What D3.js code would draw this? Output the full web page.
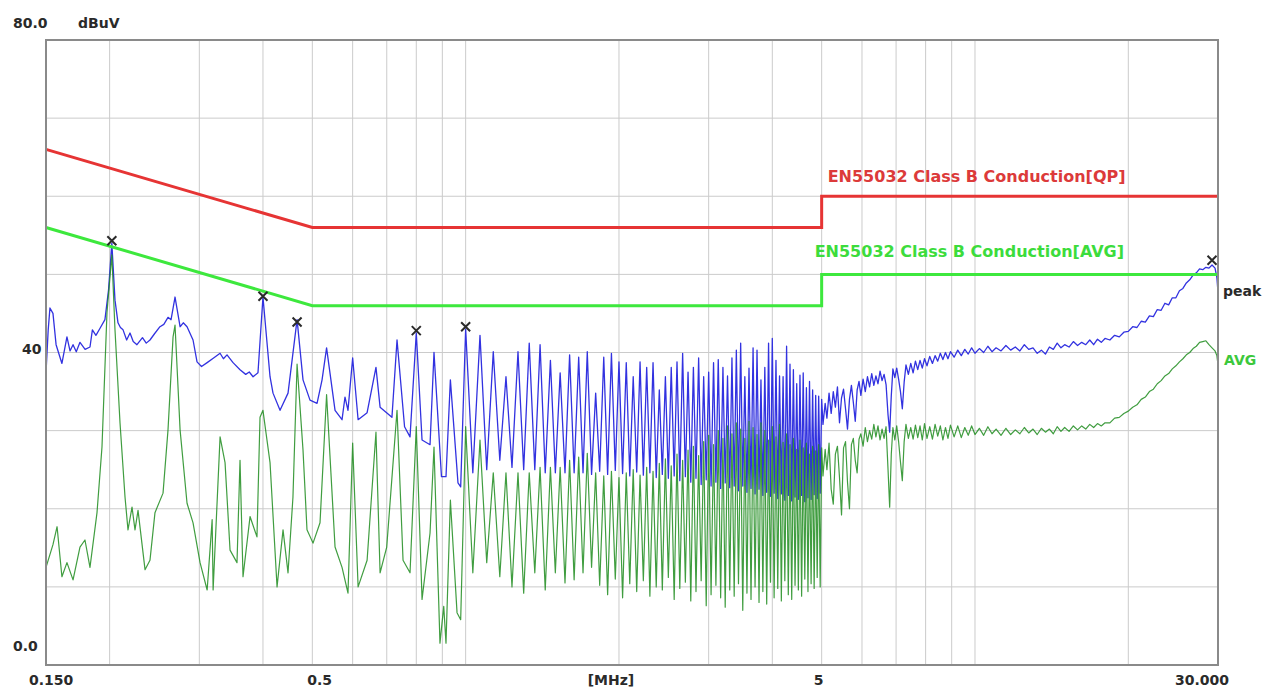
<!DOCTYPE html>
<html>
<head>
<meta charset="utf-8">
<script src="https://cdn.jsdelivr.net/npm/d3@7"></script>
<style>
  body { margin: 0; background: #fff; }
  text { font-family: "DejaVu Sans", sans-serif; font-weight: bold; }
</style>
</head>
<body>
<div class="chart"></div>
<script>
let margin = {top: 40, right: 48, bottom: 23, left: 46},
    width = 1266 - margin.left - margin.right,
    height = 688 - margin.top - margin.bottom;

// limit lines (MHz, dBuV)
let limitMHz = [0.15, 0.5, 5, 5, 30];
let qpLimitDb = [66, 56, 56, 60, 60];
let avgLimitDb = [56, 46, 46, 50, 50];

// grid
let xGridMHz = [0.2, 0.3, 0.4, 0.5, 0.6, 0.7, 0.8, 0.9, 1, 2, 3, 4, 5, 6, 7, 8, 9, 10, 20];
let yGridDb = [10, 20, 30, 40, 50, 60, 70];

// peak detector, below 1 MHz
let peakLow = [[0.150, 37.4], [0.1515, 42.9], [0.1527, 45.7], [0.1548, 45.0], [0.157, 41.0], [0.1612, 38.6],
  [0.1649, 42.0], [0.1672, 40.2], [0.1695, 41.0], [0.172, 40.1], [0.1749, 41.3], [0.179, 40.4], [0.183, 40.7], [0.185, 42.9],
  [0.188, 42.2], [0.1915, 43.1], [0.1958, 44.2], [0.199, 48.0], [0.202, 54.0], [0.2049, 46.7], [0.2077, 43.8],
  [0.210, 43.2], [0.2125, 42.9], [0.216, 41.6], [0.2193, 42.5], [0.2225, 41.4], [0.2263, 41.0], [0.232, 41.9],
  [0.236, 41.2], [0.240, 41.6], [0.245, 42.4], [0.2511, 43.3], [0.2555, 43.6], [0.2604, 44.5], [0.264, 44.2],
  [0.2688, 47.1], [0.275, 43.3], [0.279, 43.8], [0.2838, 43.3], [0.2916, 41.6], [0.2969, 38.8], [0.3030, 38.2], [0.3108, 38.7],
  [0.3200, 39.3], [0.3295, 39.9], [0.3345, 39.2], [0.340, 39.7], [0.3494, 38.7], [0.3606, 37.8], [0.370, 37.2],
  [0.376, 37.5], [0.3825, 36.9], [0.3911, 37.4],
  [0.400, 47.1], [0.413, 36.9], [0.4186, 34.8], [0.4321, 32.6], [0.448, 34.8], [0.4667, 44.2],
  [0.4794, 36.5], [0.4948, 33.9], [0.5108, 33.5], [0.5225, 36.5], [0.5333, 40.6], [0.5541, 32.6],
  [0.5719, 31.4], [0.5796, 34.3], [0.5875, 32.6], [0.600, 39.3], [0.615, 31.4], [0.6405, 32.3],
  [0.6667, 38.1], [0.6792, 33.0], [0.7166, 31.7], [0.7333, 41.6], [0.7587, 30.5], [0.7777, 29.2],
  [0.800, 42.5], [0.8211, 28.8], [0.8513, 28.2], [0.8667, 40.0], [0.8965, 24.1], [0.915, 24.1],
  [0.9333, 36.5], [0.966, 23.3], [0.9778, 22.8]];

// average detector, below 1 MHz
let avgLow = [[0.150, 12.5], [0.1548, 15.4], [0.1577, 17.7], [0.1612, 11.3], [0.1649, 13.1], [0.1695, 10.9],
  [0.1749, 15.1], [0.1789, 16.0], [0.183, 12.5], [0.1889, 19.5], [0.1932, 27.9], [0.1976, 45.1],
  [0.202, 52.5], [0.2049, 42.9], [0.2096, 31.0], [0.2144, 21.5], [0.2173, 17.3], [0.2213, 20.2],
  [0.2243, 17.3], [0.2274, 19.8], [0.2347, 12.2], [0.240, 13.4], [0.2455, 19.5], [0.2546, 22.0],
  [0.2604, 30.1], [0.2664, 42.0], [0.2688, 43.5], [0.275, 30.1], [0.2838, 20.7], [0.2916, 18.2],
  [0.301, 13.1], [0.3108, 9.6], [0.3179, 18.6], [0.3193, 9.6], [0.3295, 29.2], [0.337, 25.9],
  [0.3447, 14.7], [0.3557, 13.1], [0.3606, 26.2], [0.3655, 11.3], [0.3773, 19.0], [0.3893, 16.4],
  [0.3947, 31.7], [0.400, 32.6], [0.413, 25.9], [0.4263, 10.0], [0.438, 17.3], [0.448, 11.8],
  [0.4581, 21.5], [0.4667, 38.5], [0.4794, 27.5], [0.4881, 17.3], [0.5016, 15.6], [0.5177, 18.2],
  [0.5333, 34.6], [0.5541, 15.1], [0.5719, 12.5], [0.5875, 9.2], [0.600, 28.4], [0.615, 10.0],
  [0.6405, 13.4], [0.6667, 29.8], [0.6792, 11.8], [0.6999, 15.1], [0.7333, 32.6], [0.7535, 13.4],
  [0.7777, 11.8], [0.800, 30.5], [0.8211, 8.4], [0.8513, 16.9], [0.8667, 27.9], [0.8904, 2.8],
  [0.9057, 7.5], [0.915, 2.8], [0.9333, 21.1], [0.9618, 6.7], [0.9778, 5.8]];

// comb of harmonics 1 - 5 MHz
let harmonicMHz = [1.000, 1.067, 1.133, 1.200, 1.267, 1.333, 1.400, 1.467, 1.533, 1.600, 1.667, 1.733,
  1.800, 1.867, 1.933, 2.000, 2.067, 2.133, 2.200, 2.267, 2.333, 2.400, 2.467, 2.533, 2.600, 2.667,
  2.733, 2.800, 2.867, 2.933, 3.000, 3.067, 3.133, 3.200, 3.267, 3.333, 3.400, 3.467, 3.533, 3.600,
  3.667, 3.733, 3.800, 3.867, 3.933, 4.000, 4.067, 4.133, 4.200, 4.267, 4.333, 4.400, 4.467, 4.533,
  4.600, 4.667, 4.733, 4.800, 4.867, 4.933, 5.000];
let valleyMHz = [1.033, 1.100, 1.167, 1.233, 1.300, 1.367, 1.433, 1.500, 1.567, 1.633, 1.700, 1.767,
  1.833, 1.900, 1.967, 2.033, 2.100, 2.167, 2.233, 2.300, 2.367, 2.433, 2.500, 2.567, 2.633, 2.700,
  2.767, 2.833, 2.900, 2.967, 3.033, 3.100, 3.167, 3.233, 3.300, 3.367, 3.433, 3.500, 3.567, 3.633,
  3.700, 3.767, 3.833, 3.900, 3.967, 4.033, 4.100, 4.167, 4.233, 4.300, 4.367, 4.433, 4.500, 4.567,
  4.633, 4.700, 4.767, 4.833, 4.900, 4.967];
let peakTopDb = [43.0, 42.2, 40.1, 36.9, 40.1, 41.2, 41.0, 39.0, 37.4, 39.7, 39.4, 40.1,
  34.8, 39.4, 39.9, 38.8, 38.7, 36.9, 38.8, 38.1, 38.7, 35.2, 36.9, 38.1, 38.8, 39.9,
  37.5, 38.1, 39.3, 36.9, 37.5, 38.7, 39.1, 38.1, 37.0, 39.3, 40.3, 41.2, 36.9, 38.0,
  40.6, 40.3, 36.5, 38.1, 41.2, 41.8, 39.0, 37.0, 36.9, 40.8, 38.5, 37.8, 36.0, 37.1,
  37.4, 35.5, 36.3, 35.2, 34.5, 34.4, 34.0];
let peakValleyDb = [24.6, 25.0, 26.2, 25.3, 25.0, 25.0, 24.6, 24.6, 24.6, 24.6, 24.6, 24.4,
  24.8, 24.4, 24.9, 24.5, 24.2, 24.7, 24.3, 24.6, 24.0, 24.4, 23.9, 24.2, 23.6, 24.1,
  23.4, 23.9, 23.1, 23.7, 22.9, 23.4, 22.6, 23.3, 22.7, 22.9, 22.3, 22.9, 22.1, 22.6,
  21.9, 22.5, 21.7, 22.1, 21.6, 22.0, 21.3, 21.9, 21.1, 21.7, 21.0, 21.5, 21.2, 21.7,
  20.9, 21.4, 21.2, 21.8, 21.3, 22.0];
let avgTopDb = [30.5, 28.8, 24.6, 24.6, 24.6, 24.6, 25.3, 25.3, 25.3, 26.2, 26.6, 27.1,
  24.6, 24.2, 24.8, 24.0, 24.6, 25.0, 24.3, 25.3, 24.8, 25.8, 26.4, 25.5, 27.0, 26.2,
  27.5, 28.0, 26.8, 28.6, 29.4, 28.2, 30.0, 29.0, 30.6, 29.6, 31.0, 30.2, 29.0, 31.2,
  30.4, 29.5, 31.0, 30.0, 28.8, 30.5, 29.2, 30.8, 28.5, 29.6, 28.2, 29.0, 27.6, 28.8,
  27.8, 28.4, 27.0, 28.0, 27.4, 28.2, 27.8];
let avgValleyDb = [11.8, 13.1, 11.3, 10.0, 9.2, 11.8, 9.6, 11.8, 10.5, 10.9, 11.8, 12.5,
  10.2, 9.0, 11.0, 8.6, 10.4, 9.4, 10.8, 8.8, 10.0, 9.6, 11.2, 8.4, 9.8, 10.6,
  8.2, 9.4, 10.8, 7.6, 9.0, 10.2, 8.6, 7.4, 9.6, 8.8, 10.4, 7.0, 9.2, 8.4,
  10.0, 8.0, 9.4, 7.8, 10.6, 8.6, 9.8, 8.2, 10.8, 9.0, 8.4, 10.2, 9.6, 8.8,
  11.0, 9.4, 10.4, 9.8, 11.2, 10.0];

// above 5 MHz
let peakHigh = [[5.03, 30.8], [5.08, 33.5], [5.12, 31.6], [5.17, 34.8], [5.22, 32.2], [5.27, 35.0],
  [5.32, 33.0], [5.37, 35.6], [5.42, 31.0], [5.47, 34.2], [5.52, 35.3], [5.57, 32.8], [5.62, 30.2],
  [5.67, 34.0], [5.72, 35.8], [5.77, 33.6], [5.82, 31.2], [5.87, 35.2], [5.92, 36.3], [5.97, 34.5],
  [6.03, 36.6], [6.09, 35.0], [6.15, 36.9], [6.21, 35.6], [6.27, 37.3], [6.33, 35.8], [6.39, 37.0],
  [6.45, 36.0], [6.51, 37.6], [6.57, 36.4], [6.63, 37.2], [6.69, 35.9], [6.75, 32.0], [6.80, 29.8],
  [6.85, 34.5], [6.90, 37.9], [6.96, 36.8], [7.02, 38.0], [7.08, 36.6], [7.14, 35.0], [7.20, 32.8],
  [7.26, 36.2], [7.32, 38.4], [7.40, 37.2], [7.48, 38.6], [7.56, 37.4], [7.64, 38.9], [7.72, 37.8],
  [7.80, 39.0], [7.88, 38.0], [7.96, 39.2], [8.05, 38.3], [8.15, 39.5], [8.25, 38.6], [8.35, 39.6],
  [8.45, 38.9], [8.55, 39.9], [8.65, 39.1], [8.75, 40.0], [8.85, 39.2], [8.95, 40.1], [9.1, 39.4],
  [9.25, 40.3], [9.4, 39.6], [9.55, 40.4], [9.7, 39.8], [9.85, 40.6], [10.0, 39.9], [10.2, 40.5],
  [10.4, 40.0], [10.6, 40.8], [10.8, 40.1], [11.0, 40.6], [11.25, 40.2], [11.5, 40.9], [11.75, 40.3],
  [12.0, 40.7], [12.25, 40.2], [12.5, 41.0], [12.75, 40.4], [13.0, 40.6], [13.25, 39.9], [13.5, 40.3],
  [13.75, 39.8], [14.0, 40.7], [14.25, 40.4], [14.5, 41.2], [14.75, 40.6], [15.0, 41.0], [15.3, 40.7],
  [15.6, 41.4], [15.9, 40.9], [16.2, 41.3], [16.5, 41.0], [16.8, 41.6], [17.1, 41.0], [17.4, 41.7],
  [17.7, 41.3], [18.0, 41.8], [18.4, 41.6], [18.8, 42.2], [19.2, 42.0], [19.6, 42.6], [20.0, 42.7],
  [20.4, 43.3], [20.8, 43.2], [21.2, 44.0], [21.6, 43.9], [22.0, 44.7], [22.4, 44.6], [22.8, 45.5],
  [23.2, 45.4], [23.6, 46.3], [24.0, 46.1], [24.4, 47.0], [24.8, 47.0], [25.2, 47.9], [25.6, 48.2],
  [26.0, 48.9], [26.4, 49.3], [26.8, 49.9], [27.2, 50.2], [27.6, 50.7], [28.0, 50.6], [28.4, 50.9],
  [28.8, 50.8], [29.2, 51.2], [29.6, 50.8], [29.85, 49.6], [30.0, 47.7]];
let avgHigh = [[5.03, 24.2], [5.08, 27.6], [5.12, 25.0], [5.17, 28.4], [5.22, 22.5], [5.27, 20.6],
  [5.32, 27.0], [5.37, 28.0], [5.42, 24.0], [5.47, 19.2], [5.52, 27.8], [5.57, 28.6], [5.62, 23.4],
  [5.67, 20.0], [5.72, 28.2], [5.77, 29.0], [5.82, 26.2], [5.87, 24.6], [5.92, 28.9], [5.97, 29.6],
  [6.03, 28.0], [6.09, 30.4], [6.15, 28.6], [6.21, 30.0], [6.27, 28.9], [6.33, 30.8], [6.39, 29.2],
  [6.45, 30.6], [6.51, 28.8], [6.57, 30.2], [6.63, 29.0], [6.69, 30.5], [6.75, 25.0], [6.80, 20.2],
  [6.85, 27.0], [6.90, 30.4], [6.96, 28.8], [7.02, 30.6], [7.08, 28.6], [7.14, 26.0], [7.20, 23.6],
  [7.26, 28.6], [7.32, 30.8], [7.40, 29.0], [7.48, 30.4], [7.56, 28.9], [7.64, 30.7], [7.72, 29.1],
  [7.80, 30.6], [7.88, 28.8], [7.96, 30.9], [8.05, 29.0], [8.15, 30.5], [8.25, 28.9], [8.35, 30.8],
  [8.45, 29.3], [8.55, 30.6], [8.65, 28.8], [8.75, 30.4], [8.85, 29.0], [8.95, 30.7], [9.1, 29.2],
  [9.25, 30.6], [9.4, 29.1], [9.55, 30.4], [9.7, 29.4], [9.85, 30.6], [10.0, 29.5], [10.2, 30.3],
  [10.4, 29.4], [10.6, 30.5], [10.8, 29.6], [11.0, 30.2], [11.25, 29.4], [11.5, 30.3], [11.75, 29.5],
  [12.0, 30.1], [12.25, 29.6], [12.5, 30.4], [12.75, 29.7], [13.0, 30.2], [13.25, 29.5], [13.5, 30.3],
  [13.75, 29.8], [14.0, 30.2], [14.25, 29.6], [14.5, 30.5], [14.75, 29.9], [15.0, 30.4], [15.3, 29.9],
  [15.6, 30.6], [15.9, 30.1], [16.2, 30.6], [16.5, 30.2], [16.8, 30.8], [17.1, 30.4], [17.4, 30.9],
  [17.7, 30.6], [18.0, 31.0], [18.4, 31.0], [18.8, 31.6], [19.2, 31.7], [19.6, 32.2], [20.0, 32.5],
  [20.4, 33.0], [20.8, 33.3], [21.2, 34.0], [21.6, 34.3], [22.0, 35.0], [22.4, 35.3], [22.8, 36.0],
  [23.2, 36.4], [23.6, 37.0], [24.0, 37.3], [24.4, 37.9], [24.8, 38.3], [25.2, 38.8], [25.6, 39.2],
  [26.0, 39.7], [26.4, 40.0], [26.8, 40.5], [27.2, 40.8], [27.6, 41.3], [28.0, 41.4], [28.4, 41.5],
  [28.8, 41.0], [29.2, 40.6], [29.6, 40.2], [29.85, 39.6], [30.0, 38.4]];

// peak markers
let markerMHz = [0.202, 0.400, 0.4667, 0.800, 1.000, 29.2];
let markerDb = [54.3, 47.2, 43.9, 42.8, 43.3, 51.8];

function buildTrace(low, top, valley, high){
  let pts = low.slice();
  for(let i = 0; i < harmonicMHz.length; i++){
    pts.push([harmonicMHz[i], top[i]]);
    if(i < valleyMHz.length){
      pts.push([valleyMHz[i], valley[i]]);
    }
  }
  return pts.concat(high);
}

let peakTrace = buildTrace(peakLow, peakTopDb, peakValleyDb, peakHigh);
let avgTrace = buildTrace(avgLow, avgTopDb, avgValleyDb, avgHigh);

let svg = d3.select(".chart")
            .append("svg")
              .attr("width", 1266)
              .attr("height", 688);
let chart = svg.append("g")
              .attr("transform", "translate(" + margin.left + "," + margin.top + ")");

let xScale = d3.scaleLog().domain([0.15, 30]).range([0, width]);
let yScale = d3.scaleLinear().domain([0, 80]).range([height, 0]);

chart.selectAll(".xgrid").data(xGridMHz).enter()
  .append("line")
    .attr("class", "xgrid")
    .attr("x1", d => xScale(d)).attr("x2", d => xScale(d))
    .attr("y1", 0).attr("y2", height)
    .attr("stroke", "#cbcbcb").attr("stroke-width", 1);

chart.selectAll(".ygrid").data(yGridDb).enter()
  .append("line")
    .attr("class", "ygrid")
    .attr("x1", 0).attr("x2", width)
    .attr("y1", d => yScale(d)).attr("y2", d => yScale(d))
    .attr("stroke", "#cbcbcb").attr("stroke-width", 1);

let line = d3.line()
  .x(d => xScale(d[0]))
  .y(d => yScale(d[1]));

chart.append("path")
  .datum(peakTrace)
  .attr("d", line)
  .attr("fill", "none")
  .attr("stroke", "#3232e0")
  .attr("stroke-width", 1.3)
  .attr("stroke-linejoin", "round");

chart.append("path")
  .datum(avgTrace)
  .attr("d", line)
  .attr("fill", "none")
  .attr("stroke", "#1f8c1f")
  .attr("stroke-opacity", 0.85)
  .attr("stroke-width", 1.2)
  .attr("stroke-linejoin", "round");

let limitLine = d3.line()
  .x(d => xScale(d.f))
  .y(d => yScale(d.v));

chart.append("path")
  .datum(limitMHz.map((f, i) => ({f: f, v: qpLimitDb[i]})))
  .attr("d", limitLine)
  .attr("fill", "none")
  .attr("stroke", "#e63434")
  .attr("stroke-width", 3);

chart.append("path")
  .datum(limitMHz.map((f, i) => ({f: f, v: avgLimitDb[i]})))
  .attr("d", limitLine)
  .attr("fill", "none")
  .attr("stroke", "#3de83d")
  .attr("stroke-width", 3);

// markers
chart.selectAll(".mark").data(markerMHz).enter()
  .append("path")
    .attr("class", "mark")
    .attr("transform", (d, i) => "translate(" + xScale(d) + "," + yScale(markerDb[i]) + ")")
    .attr("d", "M-4.5,-4.5L4.5,4.5M-4.5,4.5L4.5,-4.5")
    .attr("stroke", "#2a2a2a")
    .attr("stroke-width", 2)
    .attr("fill", "none");

// frame
chart.append("rect")
  .attr("x", 0).attr("y", 0)
  .attr("width", width).attr("height", height)
  .attr("fill", "none")
  .attr("stroke", "#8a8a8a")
  .attr("stroke-width", 2);

// texts
chart.append("text").text("EN55032 Class B Conduction[QP]")
  .attr("x", xScale(5) + 6).attr("y", yScale(60) - 14)
  .attr("fill", "#dc3a3a").style("font-size", "16px");
chart.append("text").text("EN55032 Class B Conduction[AVG]")
  .attr("x", xScale(5) - 7).attr("y", yScale(50) - 17)
  .attr("fill", "#3cdc3c").style("font-size", "16px");
chart.append("text").text("peak")
  .attr("x", width + 5).attr("y", 256)
  .attr("fill", "#2a2a2a").style("font-size", "14px");
chart.append("text").text("AVG")
  .attr("x", width + 6).attr("y", 325)
  .attr("fill", "#3cc83c").style("font-size", "14px");

let axisText = [
  {t: "80.0", x: -33, y: yScale(80) - 12.5, a: "start"},
  {t: "dBuV", x: 32, y: yScale(80) - 12.5, a: "start"},
  {t: "40", x: -24, y: yScale(40) + 1, a: "start"},
  {t: "0.0", x: -33, y: yScale(0) - 14.5, a: "start"},
  {t: "0.150", x: xScale(0.15) - 17, y: height + 19.5, a: "start"},
  {t: "0.5", x: xScale(0.5) - 5, y: height + 19.5, a: "start"},
  {t: "[MHz]", x: xScale(2) - 8, y: height + 19.5, a: "middle"},
  {t: "5", x: xScale(5) - 3, y: height + 19.5, a: "middle"},
  {t: "30.000", x: xScale(30) + 11, y: height + 19.5, a: "end"}
];
chart.selectAll(".lbl").data(axisText).enter()
  .append("text")
    .attr("class", "lbl")
    .attr("x", d => d.x).attr("y", d => d.y)
    .attr("text-anchor", d => d.a)
    .attr("fill", "#2a2a2a")
    .style("font-size", "14px")
    .text(d => d.t);
</script>
</body>
</html>
